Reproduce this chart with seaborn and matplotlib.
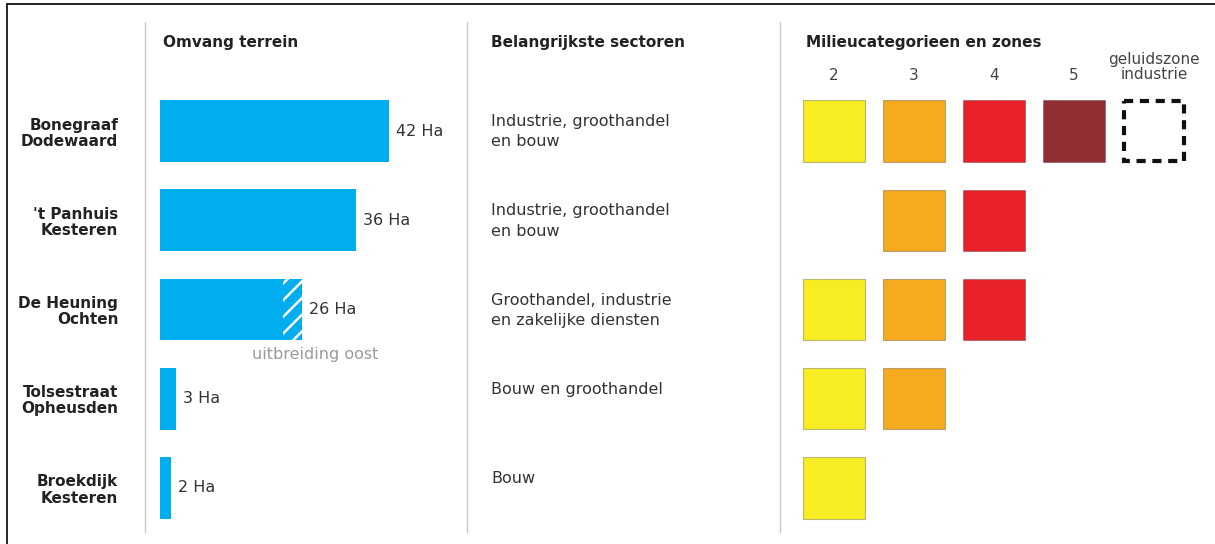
import matplotlib
matplotlib.use("Agg")
import matplotlib.pyplot as plt
from matplotlib.lines import Line2D
from matplotlib.patches import Rectangle
import seaborn as sns
import pandas as pd

# ---------------- data ----------------
sites = ["Bonegraaf\nDodewaard", "'t Panhuis\nKesteren", "De Heuning\nOchten",
         "Tolsestraat\nOpheusden", "Broekdijk\nKesteren"]
area_ha = [42, 36, 26, 3, 2]
expansion_ha = [0, 0, 3.5, 0, 0]          # hatched part "uitbreiding oost"
sectors = ["Industrie, groothandel\nen bouw",
           "Industrie, groothandel\nen bouw",
           "Groothandel, industrie\nen zakelijke diensten",
           "Bouw en groothandel",
           "Bouw"]
zone_cols = ["2", "3", "4", "5", "geluidszone\nindustrie"]
# which categories / zones are present per site (1 = present)
presence = [
    [1, 1, 1, 1, 1],
    [0, 1, 1, 0, 0],
    [1, 1, 1, 0, 0],
    [1, 1, 0, 0, 0],
    [1, 0, 0, 0, 0],
]
cat_colors = {"2": "#F8EC24", "3": "#F6AA1F", "4": "#E8212A", "5": "#922F35"}

BLUE = "#00AEEF"
TXT = "#333333"

# ---------------- figure ----------------
sns.set_theme(style="white")
plt.rcParams["font.family"] = ["DejaVu Sans"]
plt.rcParams["hatch.linewidth"] = 1.8
W, H = 1215, 544
fig = plt.figure(figsize=(W / 100, H / 100), dpi=100)
fig.patch.set_facecolor("white")

row_top, row_bot = 86.4, 532.6


def ax_rect(x0, x1):
    return [x0 / W, 1 - row_bot / H, (x1 - x0) / W, (row_bot - row_top) / H]


# frame
fig.add_artist(Line2D([7 / W, 7 / W], [0, 1 - 4 / H], color="black", lw=1.2))
fig.add_artist(Line2D([7 / W, 1], [1 - 4 / H, 1 - 4 / H], color="black", lw=1.2))
# dividers
for xp in [145, 467, 780]:
    fig.add_artist(Line2D([xp / W, xp / W], [1 - 532 / H, 1 - 22 / H],
                          color="#c8c8c8", lw=1))

# headers
hdr = dict(fontsize=11, fontweight="bold", color="#222222", va="center", ha="left")
fig.text(163 / W, 1 - 43 / H, "Omvang terrein", **hdr)
fig.text(491 / W, 1 - 43 / H, "Belangrijkste sectoren", **hdr)
fig.text(806 / W, 1 - 43 / H, "Milieucategorieen en zones", **hdr)

# ---------------- bars ----------------
ax = fig.add_axes(ax_rect(160, 460))
df = pd.DataFrame({"site": sites, "ha": area_ha})
sns.barplot(data=df, x="ha", y="site", orient="h", color=BLUE, width=0.69,
            saturation=1, linewidth=0, ax=ax)
for i, (v, e) in enumerate(zip(area_ha, expansion_ha)):
    if e > 0:
        ax.barh(i, e, left=v - e, height=0.69, color=BLUE, hatch="//",
                edgecolor="white", linewidth=0)
    ax.annotate(f"{v} Ha", (v, i), xytext=(5, 0), textcoords="offset points",
                va="center", ha="left", fontsize=11.5, color=TXT)
ax.text(28.4, 2.5, "uitbreiding oost", ha="center", va="center",
        fontsize=11.5, color="#9a9a9a")
ax.set_xlim(0, 55)
ax.set_ylim(4.5, -0.5)
ax.set_xlabel("")
ax.set_ylabel("")
ax.set_xticks([])
sns.despine(ax=ax, left=True, bottom=True)
ax.tick_params(axis="y", length=0, pad=30)
for lbl in ax.get_yticklabels():
    lbl.set_fontweight("bold")
    lbl.set_fontsize(11)
    lbl.set_linespacing(1.1)
    lbl.set_color("#222222")
ax.set_facecolor("none")

# ---------------- sectors ----------------
ax3 = fig.add_axes(ax_rect(491, 770))
ax3.set_xlim(0, 1)
ax3.set_ylim(4.5, -0.5)
ax3.axis("off")
for i, s in enumerate(sectors):
    ax3.text(0, i - 0.19, s, ha="left", va="top", fontsize=11.5, color=TXT,
             linespacing=1.45)

# ---------------- categories ----------------
ax2 = fig.add_axes(ax_rect(794, 1194))
recs = []
for r, row in enumerate(presence):
    for c, p in enumerate(row):
        if p and zone_cols[c] in cat_colors:
            recs.append({"row": r, "col": c, "cat": zone_cols[c]})
sq = pd.DataFrame(recs)
sns.scatterplot(data=sq, x="col", y="row", hue="cat", palette=cat_colors,
                marker="s", s=44 ** 2, edgecolor=(0, 0, 0, 0.25), linewidth=0.8,
                legend=False, ax=ax2)
for r, row in enumerate(presence):
    for c, p in enumerate(row):
        if p and zone_cols[c] not in cat_colors:
            w, h = 0.76, 0.68
            ax2.add_patch(Rectangle((c - w / 2, r - h / 2), w, h, fill=False,
                                    edgecolor="#111111", lw=3,
                                    linestyle=(0, (2.2, 1.6))))
for c, lab in enumerate(zone_cols):
    if "\n" in lab:
        ax2.text(c, -0.55, lab, ha="center", va="bottom", fontsize=11,
                 color="#444444", linespacing=1.0)
    else:
        ax2.text(c, -0.627, lab, ha="center", va="center", fontsize=11,
                 color="#444444")
ax2.set_xlim(-0.5, 4.5)
ax2.set_ylim(4.5, -0.5)
ax2.axis("off")

fig.savefig("out.png", dpi=100, facecolor="white")
